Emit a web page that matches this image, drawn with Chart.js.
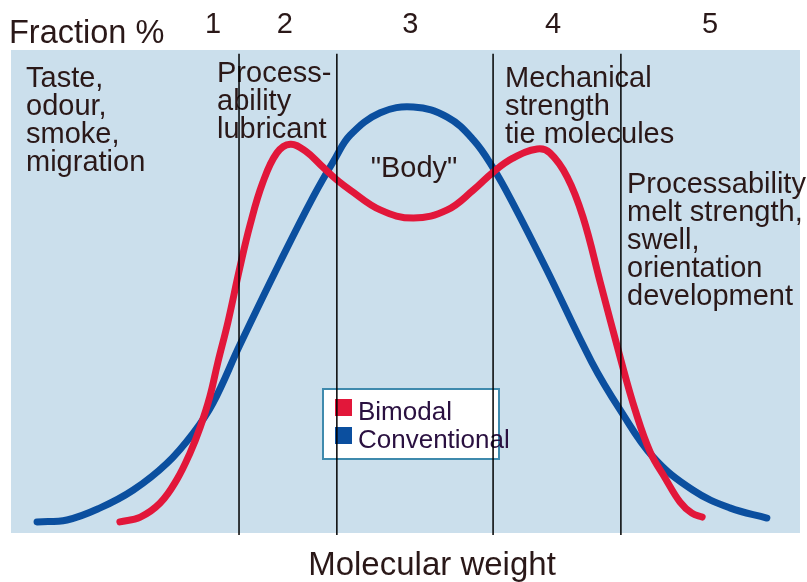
<!DOCTYPE html>
<html>
<head>
<meta charset="utf-8">
<script src="https://cdn.jsdelivr.net/npm/chart.js@4.4.1/dist/chart.umd.min.js"></script>
<style>
  html, body { margin: 0; padding: 0; background: #ffffff; }
  #wrap { width: 807px; height: 582px; }
</style>
</head>
<body>
<div id="wrap"><canvas id="c" width="807" height="582"></canvas></div>
<script>
// ---- Data (molecular weight axis 0-100, fraction % axis 0-100, arbitrary units) ----
const bimodalX = [13.8, 16.4, 18.9, 21.0, 22.7, 24.0, 25.2, 26.2, 27.5, 29.0, 30.3, 31.9, 33.7, 35.4, 37.3, 39.5, 41.3, 43.0, 46.8, 51.0, 55.3, 58.6, 61.1, 63.6, 66.7, 68.3, 70.5, 72.5, 74.7, 77.3, 79.1, 81.0, 82.9, 84.8, 86.3, 87.6];
const bimodalY = [2.3, 3.3, 6.2, 11.0, 16.6, 22.0, 28.2, 35.2, 43.7, 54.9, 63.8, 72.5, 78.7, 80.5, 79.1, 75.8, 73.1, 71.0, 66.9, 65.2, 66.9, 71.0, 74.7, 77.6, 79.5, 78.7, 73.7, 65.4, 51.8, 35.8, 25.5, 16.8, 11.4, 6.4, 4.1, 3.3];
const conventionalX = [3.3, 7.1, 11.3, 15.5, 19.8, 23.1, 25.6, 29.0, 34.1, 38.3, 41.1, 43.0, 46.8, 51.0, 55.3, 58.6, 61.1, 63.6, 67.9, 73.6, 77.2, 81.4, 86.4, 91.1, 95.8];
const conventionalY = [2.3, 2.7, 5.2, 8.9, 14.5, 20.7, 26.9, 38.9, 56.1, 69.6, 77.6, 82.4, 87.0, 88.2, 86.1, 81.4, 75.6, 68.3, 54.5, 35.4, 25.5, 15.7, 8.9, 5.2, 3.1];
const boundaryX = [28.9, 41.3, 61.1, 77.3];
const regionNumbers = ['1', '2', '3', '4', '5'];
const regionNumberX = [25.6, 34.7, 50.6, 68.7, 88.6];
const seriesNames = ['Bimodal', 'Conventional'];
const yTitle = 'Fraction %';
const xTitle = 'Molecular weight';
const regionTexts = [
  ['Taste,', 'odour,', 'smoke,', 'migration'],
  ['Process-', 'ability', 'lubricant'],
  ['"Body"'],
  ['Mechanical', 'strength', 'tie molecules'],
  ['Processability', 'melt strength,', 'swell,', 'orientation', 'development']
];

const RED = '#e2173a';
const BLUE = '#0b4f9f';
const TEXT = '#2a1818';
const FONT = '"Liberation Sans", Arial, sans-serif';

function pts(xs, ys) { return xs.map((x, i) => ({ x: x, y: ys[i] })); }

const datasets = [
  { label: seriesNames[0], data: pts(bimodalX, bimodalY), borderColor: RED, backgroundColor: RED,
    borderWidth: 7, borderCapStyle: 'round', borderJoinStyle: 'round', pointRadius: 0, tension: 0.4, order: 2 },
  { label: seriesNames[1], data: pts(conventionalX, conventionalY), borderColor: BLUE, backgroundColor: BLUE,
    borderWidth: 7, borderCapStyle: 'round', borderJoinStyle: 'round', pointRadius: 0, tension: 0.4, order: 3 }
];
boundaryX.forEach(bx => {
  datasets.push({ label: 'boundary', data: [{ x: bx, y: -0.4 }, { x: bx, y: 99.2 }], borderColor: '#000000',
    borderWidth: 1.5, pointRadius: 0, clip: false, order: 1 });
});

const decor = {
  id: 'decor',
  beforeDatasetsDraw(chart) {
    const ctx = chart.ctx, a = chart.chartArea;
    ctx.save();
    // plot background
    ctx.fillStyle = '#cbdfec';
    ctx.fillRect(a.left, a.top, a.right - a.left, a.bottom - a.top);

    // region texts
    ctx.fillStyle = TEXT;
    ctx.textBaseline = 'alphabetic';
    ctx.font = '29px ' + FONT;
    const blocks = [
      { x: 26, y: 87, align: 'left' },
      { x: 217, y: 82, align: 'left' },
      { x: 414, y: 177, align: 'center' },
      { x: 505, y: 87, align: 'left' },
      { x: 627, y: 193, align: 'left' }
    ];
    regionTexts.forEach((lines, i) => {
      const b = blocks[i];
      ctx.textAlign = b.align;
      lines.forEach((t, j) => ctx.fillText(t, b.x, b.y + j * 28));
    });

    // legend box
    const lx = 323, ly = 389, lw = 176, lh = 70;
    ctx.fillStyle = '#ffffff';
    ctx.fillRect(lx, ly, lw, lh);
    ctx.strokeStyle = '#3f8aad';
    ctx.lineWidth = 2;
    ctx.strokeRect(lx, ly, lw, lh);
    ctx.font = '26px ' + FONT;
    ctx.textAlign = 'left';
    [0, 1].forEach(i => {
      const ds = chart.data.datasets[i];
      const yy = 399 + i * 28;
      ctx.fillStyle = ds.borderColor;
      ctx.fillRect(335, yy, 17, 17);
      ctx.fillStyle = '#2a1040';
      ctx.fillText(ds.label, 358, yy + 21);
    });
    ctx.restore();
  },
  afterDraw(chart) {
    const ctx = chart.ctx;
    const xs = chart.scales.x;
    ctx.save();
    ctx.fillStyle = TEXT;
    ctx.textBaseline = 'alphabetic';
    ctx.font = '32.5px ' + FONT;
    ctx.textAlign = 'left';
    ctx.fillText(yTitle, 9, 43);
    ctx.font = '29px ' + FONT;
    ctx.textAlign = 'center';
    regionNumbers.forEach((n, i) => ctx.fillText(n, xs.getPixelForValue(regionNumberX[i]), 33));
    ctx.font = '33px ' + FONT;
    ctx.fillText(xTitle, 432, 575);
    ctx.restore();
  }
};

new Chart(document.getElementById('c'), {
  type: 'line',
  data: { datasets: datasets },
  options: {
    responsive: false,
    devicePixelRatio: 1,
    animation: false,
    layout: { padding: { left: 11, right: 7, top: 50, bottom: 49 } },
    scales: {
      x: { type: 'linear', min: 0, max: 100, display: false },
      y: { type: 'linear', min: 0, max: 100, display: false }
    },
    plugins: { legend: { display: false }, tooltip: { enabled: false } }
  },
  plugins: [decor]
});
</script>
</body>
</html>
